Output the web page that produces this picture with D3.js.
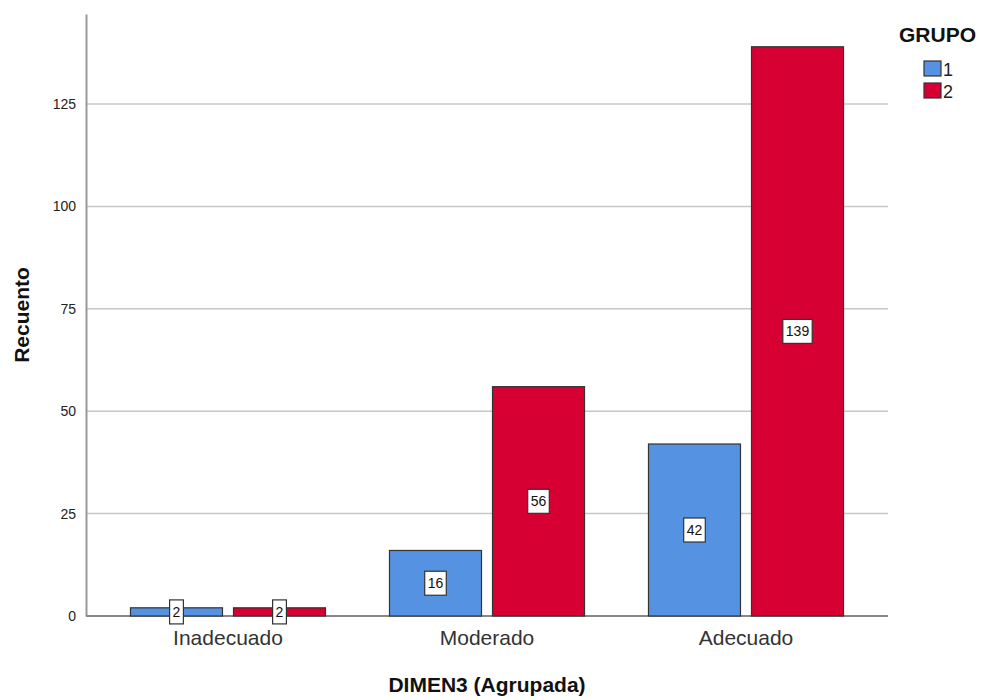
<!DOCTYPE html>
<html>
<head>
<meta charset="utf-8">
<script src="https://cdn.jsdelivr.net/npm/d3@7"></script>
<style>
body { margin: 0; background: #fff; }
text { font-family: Arial, "Liberation Sans", sans-serif; }
</style>
</head>
<body>
<svg width="987" height="700"></svg>
<script>
const categories = ['Inadecuado', 'Moderado', 'Adecuado'];
const groups = ['1', '2'];
const group1 = [2, 16, 42];
const group2 = [2, 56, 139];
const yTicks = [0, 25, 50, 75, 100, 125];
const colors = ['#5593e2', '#d70032'];

const svg = d3.select('svg');
const padLeft = 86, padRight = 888, padTop = 14, padBottom = 616;

const y = d3.scaleLinear().domain([0, 147]).range([padBottom, padTop]);
const x0 = d3.scaleBand().domain(categories).range([98.5, 875.5]).paddingInner(0.247).paddingOuter(0.1235);
const x1 = d3.scaleBand().domain(groups).range([0, x0.bandwidth()]).paddingInner(11 / 103);

// grid
svg.append('g')
	.selectAll('line')
	.data(yTicks.slice(1))
	.enter()
	.append('line')
	.attr('x1', padLeft).attr('x2', padRight)
	.attr('y1', d => y(d)).attr('y2', d => y(d))
	.attr('stroke', '#c8c8c8').attr('stroke-width', 1.5);

// y axis
const yAxis = d3.axisLeft(y).tickValues(yTicks).tickSize(0).tickPadding(10);
const gy = svg.append('g').attr('transform', 'translate(' + padLeft + ',0)').call(yAxis);
gy.select('.domain').attr('stroke', '#999').attr('stroke-width', 2);
gy.selectAll('text').attr('font-size', '14px').attr('fill', '#222').attr('font-family', 'Arial, "Liberation Sans", sans-serif');

// baseline
svg.append('line').attr('x1', padLeft).attr('x2', padRight).attr('y1', padBottom).attr('y2', padBottom)
	.attr('stroke', '#888').attr('stroke-width', 2);

const rows = categories.map((c, i) => ({ cat: c, vals: [group1[i], group2[i]] }));

const cat = svg.selectAll('.cat').data(rows).enter().append('g')
	.attr('transform', d => 'translate(' + x0(d.cat) + ',0)');

const bar = cat.selectAll('.bar')
	.data(d => d.vals.map((v, j) => ({ g: groups[j], v: v, j: j })))
	.enter().append('g');

bar.append('rect')
	.attr('x', d => x1(d.g))
	.attr('y', d => y(d.v))
	.attr('width', x1.bandwidth())
	.attr('height', d => y(0) - y(d.v))
	.attr('fill', d => colors[d.j])
	.attr('stroke', '#333').attr('stroke-width', 1.2);

// value labels
bar.each(function (d) {
	const g = d3.select(this);
	const cx = x1(d.g) + x1.bandwidth() / 2;
	const cy = y(d.v / 2);
	const t = g.append('text')
		.attr('x', cx).attr('y', cy)
		.attr('dy', '0.36em')
		.attr('text-anchor', 'middle')
		.attr('font-size', '14px')
		.attr('fill', '#111')
		.text(d.v);
	const w = t.node().getComputedTextLength();
	g.insert('rect', 'text')
		.attr('x', cx - w / 2 - 3).attr('y', cy - 12)
		.attr('width', w + 6).attr('height', 24)
		.attr('fill', '#fff').attr('stroke', '#333').attr('stroke-width', 1.2);
});

// x tick labels
svg.append('g').selectAll('text').data(categories).enter().append('text')
	.attr('x', d => x0(d) + x0.bandwidth() / 2)
	.attr('y', 645)
	.attr('text-anchor', 'middle')
	.attr('font-size', '21px')
	.attr('fill', '#333')
	.text(d => d);

// axis titles
svg.append('text')
	.attr('x', 487).attr('y', 692)
	.attr('text-anchor', 'middle')
	.attr('font-size', '21px').attr('font-weight', 'bold')
	.attr('fill', '#111')
	.text('DIMEN3 (Agrupada)');
svg.append('text')
	.attr('transform', 'rotate(-90)')
	.attr('x', -315).attr('y', 29)
	.attr('text-anchor', 'middle')
	.attr('font-size', '21px').attr('font-weight', 'bold')
	.attr('fill', '#111')
	.text('Recuento');

// legend
svg.append('text').attr('x', 899).attr('y', 42)
	.attr('font-size', '21px').attr('font-weight', 'bold').attr('fill', '#111').text('GRUPO');
const leg = svg.selectAll('.leg').data(groups).enter().append('g')
	.attr('transform', (d, i) => 'translate(924,' + (61 + i * 22) + ')');
leg.append('rect').attr('width', 17).attr('height', 15)
	.attr('fill', (d, i) => colors[i]).attr('stroke', '#333').attr('stroke-width', 1.2);
leg.append('text').attr('x', 19).attr('y', 15).attr('font-size', '18px').attr('fill', '#222').text(d => d);
</script>
</body>
</html>
